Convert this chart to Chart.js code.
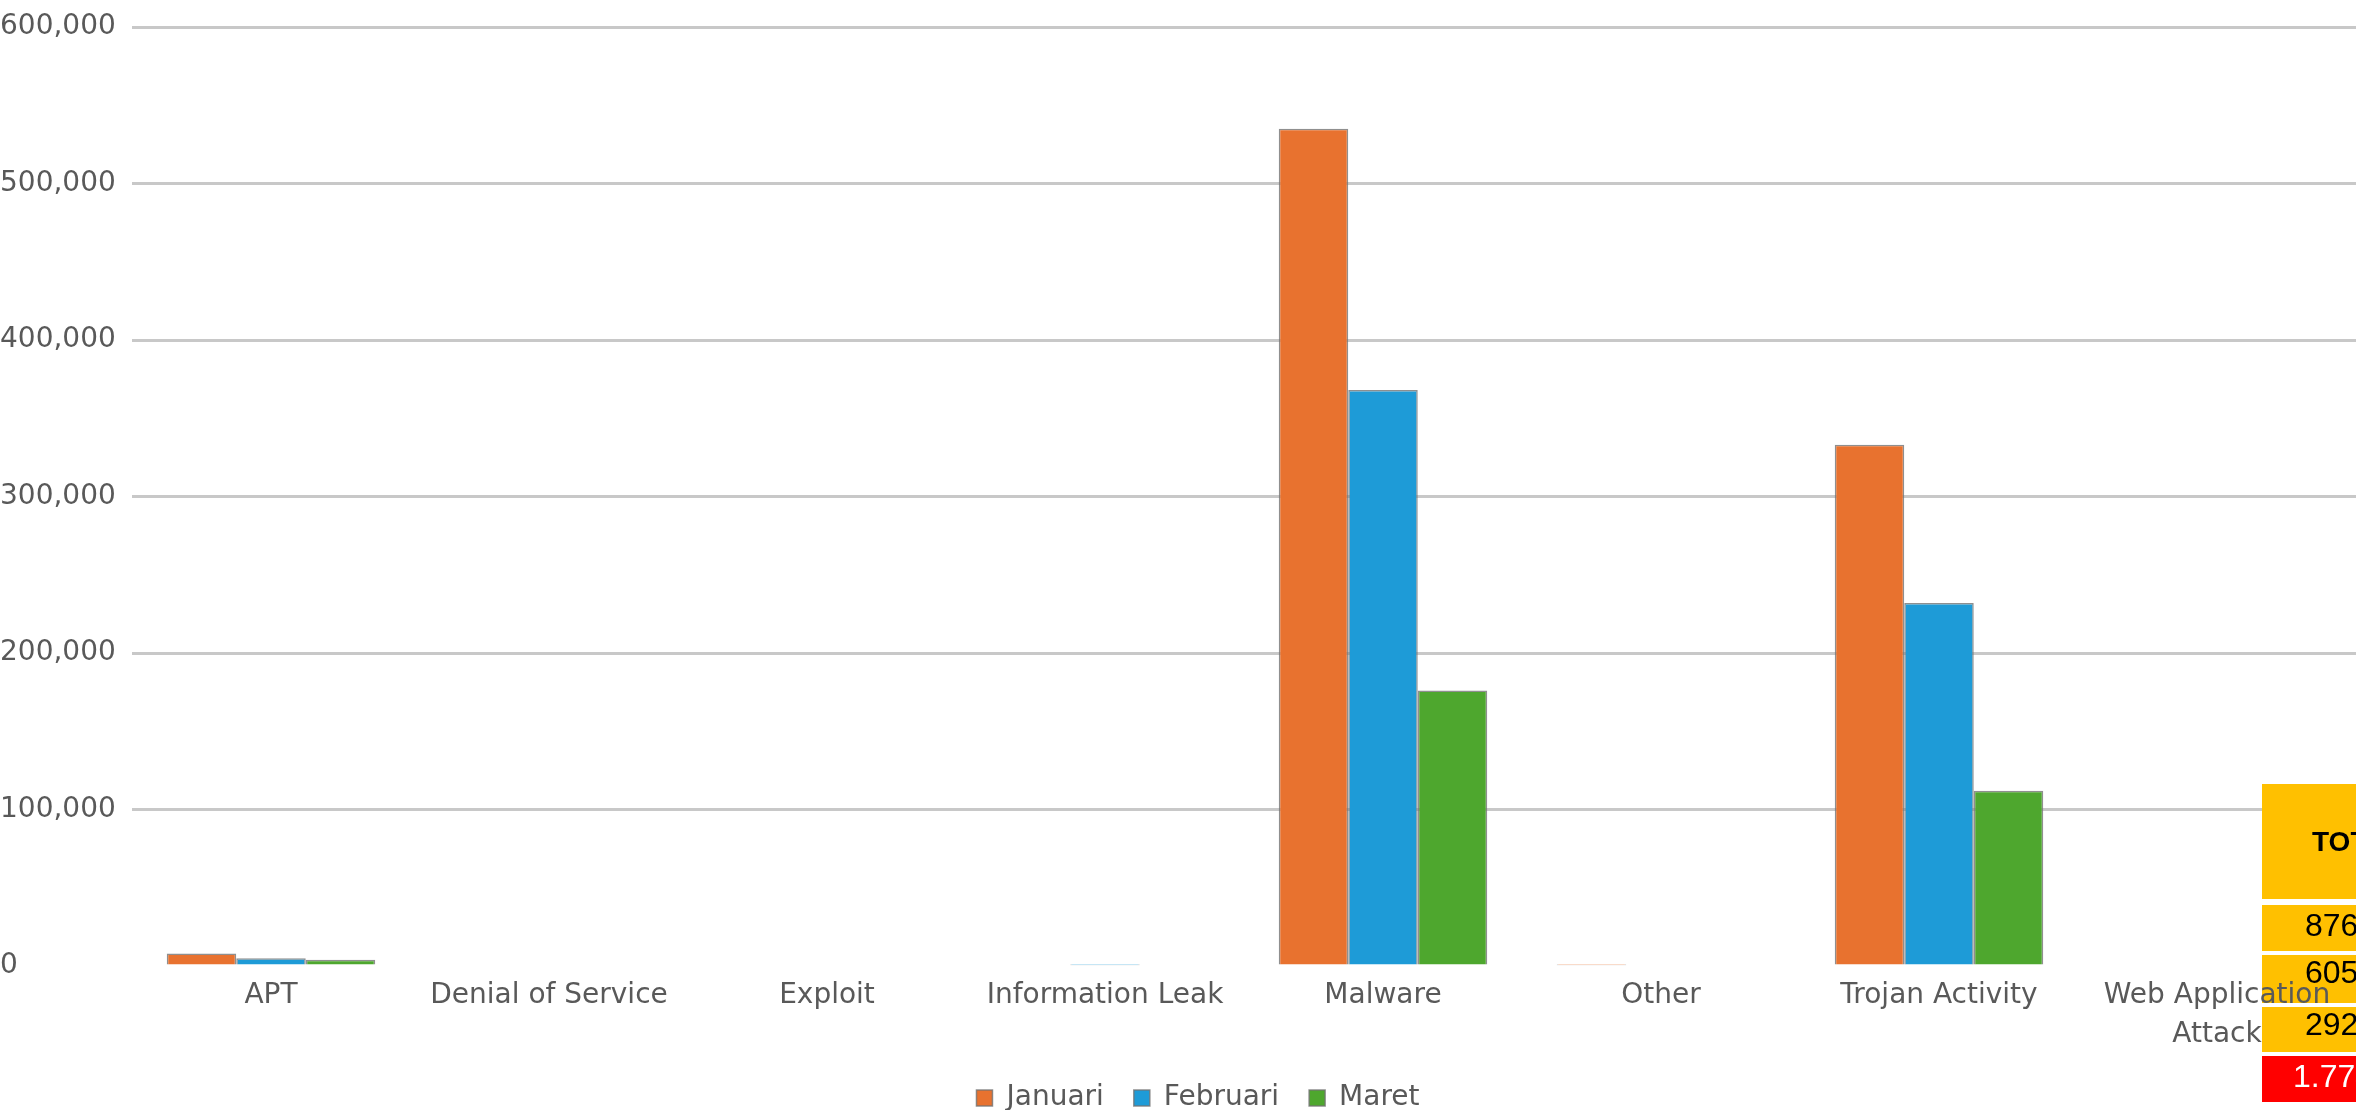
<!DOCTYPE html>
<html lang="id">
<head>
<meta charset="UTF-8">
<title>Serangan per Kategori</title>
<script src="https://cdn.jsdelivr.net/npm/chart.js"></script>
<style>
  html, body { margin: 0; padding: 0; background: #fff; }
  #wrap { position: relative; width: 2356px; height: 1110px; }
</style>
</head>
<body>
<div id="wrap"><canvas id="chart" width="2356" height="1110"></canvas></div>
<script>
// data
const categories = ['APT', 'Denial of Service', 'Exploit', 'Information Leak', 'Malware', 'Other', 'Trojan Activity', ['Web Application', 'Attack']];
const januari  = [8000, 0, 0, 0,   535000, 400, 333000, 0];
const februari = [5000, 0, 0, 400, 368000, 0,   232000, 0];
const maret    = [4000, 0, 0, 0,   176000, 0,   112000, 0];
const seriesNames = ['Januari', 'Februari', 'Maret'];
const seriesColors = ['#E8722F', '#1E9BD7', '#4EA72E'];
const yMax = 600000;
const yStep = 100000;
const totalHeader = 'TOTAL';
const totalValues = ['876', '605', '292', '1.774'];

const textGray = '#595959';
const tickFont = { family: 'DejaVu Sans', size: 28 };

// yellow/red total table cut off at the right edge; drawn after the grid,
// before the bars and the x labels (x ticks use z:1)
const totalBox = {
  id: 'totalBox',
  afterLayout(chart) {
    // legend sits a little right of centre in the original
    chart.legend.left += 20;
    chart.legend.right += 20;
  },
  beforeDatasetsDraw(chart) {
    const ctx = chart.ctx;
    const x = 2262, w = 200;
    const rows = [[784, 115], [905, 46], [955, 48], [1007, 45], [1056, 46]];
    ctx.save();
    rows.forEach(([top, h], i) => {
      ctx.fillStyle = i === 4 ? '#FF0000' : '#FFC000';
      ctx.fillRect(x, top, w, h);
    });
    ctx.textBaseline = 'middle';
    ctx.textAlign = 'left';
    ctx.fillStyle = '#000';
    ctx.font = 'bold 28px "Liberation Sans", Arial, sans-serif';
    ctx.fillText(totalHeader, 2312, 843);
    ctx.font = '32px "Liberation Sans", Arial, sans-serif';
    const ys = [927, 974, 1026, 1078];
    totalValues.forEach((t, i) => {
      ctx.fillStyle = i === 3 ? '#fff' : '#000';
      ctx.fillText(t, i === 3 ? 2293 : 2305, ys[i]);
    });
    ctx.restore();
  }
};

const datasets = [januari, februari, maret].map((vals, i) => ({
  label: seriesNames[i],
  data: vals,
  backgroundColor: seriesColors[i],
  borderColor: 'rgba(115,115,115,0.8)',
  borderWidth: 1.5,
  categoryPercentage: 0.75,
  barPercentage: 1.0
}));

new Chart(document.getElementById('chart'), {
  type: 'bar',
  data: { labels: categories, datasets: datasets },
  plugins: [totalBox],
  options: {
    responsive: false,
    animation: false,
    devicePixelRatio: 1,
    locale: 'en-US',
    layout: { padding: { top: 27, left: 0, right: 0, bottom: -12 } },
    plugins: {
      legend: {
        position: 'bottom',
        labels: {
          font: { family: 'DejaVu Sans', size: 28, lineHeight: 1.0 },
          color: textGray,
          boxWidth: 16,
          boxHeight: 16,
          padding: 30
        }
      },
      tooltip: { enabled: false }
    },
    scales: {
      x: {
        afterFit(scale) { scale.height = 88; },
        grid: { display: false, drawTicks: false },
        border: { display: false },
        ticks: {
          z: 1,
          font: { family: 'DejaVu Sans', size: 28, lineHeight: 1.37 },
          color: textGray,
          padding: 11,
          maxRotation: 0,
          autoSkip: false
        }
      },
      y: {
        min: 0,
        max: yMax,
        afterFit(scale) { scale.width = 132; },
        border: { display: false },
        grid: {
          drawTicks: false,
          lineWidth: 3,
          color: (c) => (c.tick && c.tick.value === 0 ? 'rgba(0,0,0,0)' : '#C8C8C8')
        },
        ticks: {
          stepSize: yStep,
          font: tickFont,
          color: textGray,
          crossAlign: 'far',
          padding: 0
        }
      }
    }
  }
});
</script>
</body>
</html>
